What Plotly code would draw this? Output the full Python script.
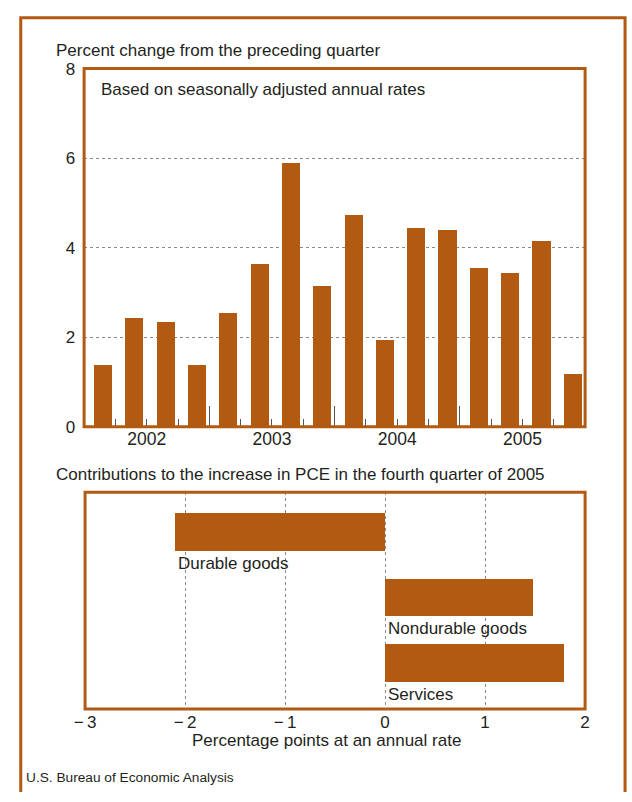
import plotly.graph_objects as go

# ---------------- data ----------------
quarters = ["2002Q1", "2002Q2", "2002Q3", "2002Q4",
            "2003Q1", "2003Q2", "2003Q3", "2003Q4",
            "2004Q1", "2004Q2", "2004Q3", "2004Q4",
            "2005Q1", "2005Q2", "2005Q3", "2005Q4"]
pce_change = [1.4, 2.45, 2.35, 1.4,
              2.55, 3.65, 5.9, 3.15,
              4.75, 1.95, 4.45, 4.4,
              3.55, 3.45, 4.15, 1.2]
years = ["2002", "2003", "2004", "2005"]
y_ticks_top = [0, 2, 4, 6, 8]

components = ["Durable goods", "Nondurable goods", "Services"]
contributions = [-2.1, 1.48, 1.79]
x_ticks_bottom = [-3, -2, -1, 0, 1, 2]
x_ticklabels_bottom = ["\u2212\u20093", "\u2212\u20092", "\u2212\u20091", "0", "1", "2"]

# ---------------- style ----------------
W, H = 632, 802
ORANGE = "#B25A12"
TXT = "#231F20"
FONT = "Liberation Sans, Arial, sans-serif"
FS = 17


def px(x):
    return x / W


def py(y):
    return 1 - y / H


fig = go.Figure()

# top chart bars
xpos = [i + 0.5 for i in range(len(quarters))]
fig.add_trace(go.Bar(x=xpos, y=pce_change, width=0.58, offset=-0.18,
                     marker=dict(color=ORANGE, line=dict(width=0)),
                     xaxis="x", yaxis="y", hovertext=quarters, showlegend=False))
# invisible trace to activate year-label axis
fig.add_trace(go.Scatter(x=[0, 16], y=[None, None], xaxis="x3", yaxis="y",
                         showlegend=False, hoverinfo="skip"))

# bottom chart bars
ypos = list(range(len(components)))
fig.add_trace(go.Bar(x=contributions, y=ypos, orientation="h", width=0.57,
                     marker=dict(color=ORANGE, line=dict(width=0)),
                     xaxis="x2", yaxis="y2", hovertext=components, showlegend=False))

n = len(quarters)
per_year = n // len(years)
year_bounds = [k * per_year for k in range(1, len(years))]
minor_bounds = [k for k in range(1, n) if k % per_year != 0]
year_centers = [k * per_year + per_year / 2 for k in range(len(years))]

top_dom_x = [px(75), px(589)]
top_dom_y = [py(428), py(61)]
bot_dom_x = [px(76), px(589)]
bot_dom_y = [py(717), py(495)]

fig.update_layout(
    width=W, height=H,
    margin=dict(l=0, r=0, t=0, b=0),
    paper_bgcolor="white", plot_bgcolor="white",
    font=dict(family=FONT, size=FS, color=TXT),
    bargap=0,
    xaxis=dict(domain=top_dom_x, range=[0, n], showgrid=False, zeroline=False,
               tickmode="array", tickvals=year_bounds, showticklabels=False,
               ticks="inside", ticklen=21, tickwidth=1, tickcolor="#555",
               minor=dict(tickmode="array", tickvals=minor_bounds, ticks="inside",
                          ticklen=8, tickwidth=1, tickcolor="#555", showgrid=False),
               anchor="y", fixedrange=True),
    xaxis3=dict(overlaying="x", range=[0, n], showgrid=False, zeroline=False,
                tickmode="array", tickvals=year_centers, ticktext=years,
                ticks="", side="bottom", anchor="y",
                tickfont=dict(size=FS + 0.5, color=TXT), fixedrange=True),
    yaxis=dict(domain=top_dom_y, range=[0, 8], tickmode="array", tickvals=y_ticks_top,
               showgrid=True, gridcolor="#8a8a8a", griddash="dot", gridwidth=1,
               zeroline=False, ticks="", ticklabelstandoff=8,
               tickfont=dict(size=FS, color=TXT), anchor="x", fixedrange=True),
    xaxis2=dict(domain=bot_dom_x, range=[-3, 2], tickmode="array", tickvals=x_ticks_bottom,
                ticktext=x_ticklabels_bottom, showgrid=True, gridcolor="#8a8a8a",
                griddash="dot", gridwidth=1, zeroline=False, ticks="",
                ticklabelstandoff=1, tickfont=dict(size=FS, color=TXT),
                anchor="y2", fixedrange=True),
    yaxis2=dict(domain=bot_dom_y, range=[2.70, -0.61], showgrid=False, zeroline=False,
                showticklabels=False, ticks="", anchor="x2", fixedrange=True),
)

shapes = []
# outer frame (left, top, right edges; runs off the bottom)
shapes.append(dict(type="path", xref="paper", yref="paper",
                   path=f"M {px(10)} 0 L {px(10)} {py(9)} L {px(630)} {py(9)} L {px(630)} 0",
                   line=dict(color=ORANGE, width=3), layer="above"))
# plot frames
shapes.append(dict(type="rect", xref="x domain", yref="y domain", x0=0, x1=1, y0=0, y1=1,
                   line=dict(color=ORANGE, width=3), layer="above"))
shapes.append(dict(type="rect", xref="x2 domain", yref="y2 domain", x0=0, x1=1, y0=0, y1=1,
                   line=dict(color=ORANGE, width=3), layer="above"))
fig.update_layout(shapes=shapes)

ann = []
ann.append(dict(text="Percent change from the preceding quarter", xref="paper", yref="paper",
                x=px(44), y=py(42), xanchor="left", yanchor="middle", showarrow=False,
                font=dict(size=FS, color=TXT)))
ann.append(dict(text="Based on seasonally adjusted annual rates", xref="paper", yref="paper",
                x=px(90), y=py(82), xanchor="left", yanchor="middle", showarrow=False,
                font=dict(size=FS, color=TXT)))
ann.append(dict(text="Contributions to the increase in PCE in the fourth quarter of 2005",
                xref="paper", yref="paper", x=px(44), y=py(477), xanchor="left",
                yanchor="middle", showarrow=False, font=dict(size=FS, color=TXT)))
ann.append(dict(text="Percentage points at an annual rate", xref="paper", yref="paper",
                x=px(324), y=py(749), xanchor="center", yanchor="middle", showarrow=False,
                font=dict(size=FS, color=TXT)))
ann.append(dict(text="U.S. Bureau of Economic Analysis", xref="paper", yref="paper",
                x=px(13), y=py(787), xanchor="left", yanchor="middle", showarrow=False,
                font=dict(size=13.7, color=TXT)))
for i, (name, v) in enumerate(zip(components, contributions)):
    ann.append(dict(text=name, xref="x2", yref="y2", x=min(0, v), y=i + 0.285,
                    xanchor="left", yanchor="top", xshift=1, yshift=-1, showarrow=False,
                    font=dict(size=FS, color=TXT)))
fig.update_layout(annotations=ann)

fig.write_html("out.html",
               config={"displayModeBar": False},
               post_script=(
                   "var s=document.createElement('style');"
                   "s.textContent='html,body{margin:0!important;padding:0!important;"
                   "overflow:hidden!important;width:632px;height:802px;}"
                   ".plotly-graph-div{position:fixed!important;left:0;top:0;}';"
                   "document.head.appendChild(s);"
               ))
